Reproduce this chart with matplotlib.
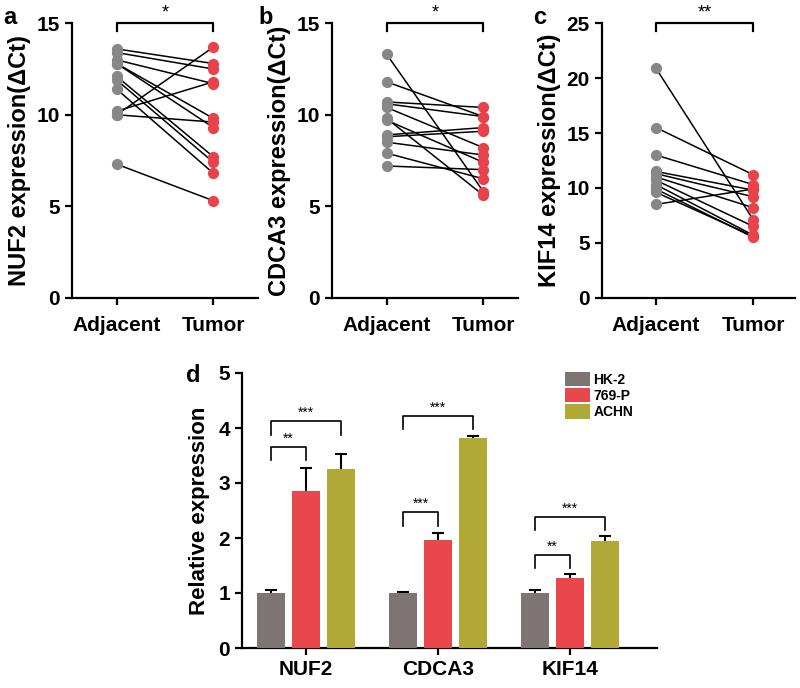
import numpy as np
import matplotlib
matplotlib.use('Agg')
import matplotlib.pyplot as plt

plt.rcParams['font.family'] = ['Liberation Sans', 'DejaVu Sans']
plt.rcParams['font.weight'] = 'bold'
plt.rcParams['axes.labelweight'] = 'bold'

# paired qPCR data (delta Ct), adjacent vs tumor
groups = ['Adjacent', 'Tumor']
nuf2_adj = [13.6, 13.4, 13.0, 12.8, 12.8, 12.1, 11.9, 11.4, 10.2, 10.0, 10.0, 7.3]
nuf2_tum = [12.8, 12.5, 11.7, 9.8, 9.3, 7.7, 7.4, 6.8, 11.8, 13.7, 9.6, 5.3]
cdca3_adj = [13.3, 11.8, 10.7, 10.6, 10.4, 9.8, 9.7, 8.9, 8.8, 8.5, 7.9, 7.2]
cdca3_tum = [5.8, 9.9, 10.4, 9.9, 8.2, 5.6, 7.4, 9.3, 9.1, 7.8, 6.5, 7.0]
kif14_adj = [20.9, 15.5, 13.0, 11.5, 11.3, 11.0, 10.7, 10.3, 9.9, 9.6, 8.5]
kif14_tum = [7.1, 11.2, 10.3, 9.8, 9.2, 8.2, 6.5, 5.7, 5.5, 5.6, 9.9]

# cell line relative expression
genes = ['NUF2', 'CDCA3', 'KIF14']
cell_lines = ['HK-2', '769-P', 'ACHN']
means = {'HK-2': [1.0, 1.0, 1.0],
         '769-P': [2.85, 1.96, 1.28],
         'ACHN': [3.26, 3.82, 1.94]}
errs = {'HK-2': [0.05, 0.01, 0.05],
        '769-P': [0.42, 0.14, 0.06],
        'ACHN': [0.27, 0.03, 0.09]}
bar_colors = {'HK-2': '#7e7473', '769-P': '#e8474c', 'ACHN': '#b0a936'}

W, H = 800, 688
fig = plt.figure(figsize=(8, 6.88), dpi=100)


def px_axes(left, top, right, bottom):
    return fig.add_axes([left / W, 1 - bottom / H, (right - left) / W, (bottom - top) / H])


def style(ax):
    for s in ['top', 'right']:
        ax.spines[s].set_visible(False)
    for s in ['left', 'bottom']:
        ax.spines[s].set_linewidth(1.6)
    ax.tick_params(width=1.6, length=5, labelsize=15)


def paired(ax, adj, tum, ylim, ticks, ylabel, xlim, stars):
    for a, t in zip(adj, tum):
        ax.plot([0, 1], [a, t], color='black', lw=1.1, zorder=2)
    ax.scatter(np.zeros(len(adj)), adj, s=50, color='#878787', zorder=3, clip_on=False)
    ax.scatter(np.ones(len(tum)), tum, s=50, color='#e8434a', zorder=3, clip_on=False)
    ax.set_xlim(*xlim)
    ax.set_ylim(*ylim)
    ax.set_yticks(ticks)
    ax.set_xticks([0, 1])
    ax.set_xticklabels(groups, fontsize=16)
    ax.set_ylabel(ylabel, fontsize=17, labelpad=4)
    style(ax)
    ax.tick_params(axis='x', pad=8)
    top = ylim[1]
    leg = top * 0.028
    ax.plot([0, 0, 1, 1], [top - leg, top, top, top - leg], color='black', lw=1.6, clip_on=False)
    ax.text(0.5, top + top * 0.005, stars, ha='center', va='bottom', fontsize=13, fontweight='normal')


ax_a = px_axes(71.7, 23.3, 258.3, 297.7)
paired(ax_a, nuf2_adj, nuf2_tum, (0, 15), [0, 5, 10, 15], 'NUF2 expression(ΔCt)', (-0.465, 1.464), '*')
ax_b = px_axes(331.7, 23.3, 518.3, 297.7)
paired(ax_b, cdca3_adj, cdca3_tum, (0, 15), [0, 5, 10, 15], 'CDCA3 expression(ΔCt)', (-0.569, 1.361), '*')
ax_c = px_axes(601.7, 23.3, 795, 297.7)
paired(ax_c, kif14_adj, kif14_tum, (0, 25), [0, 5, 10, 15, 20, 25], 'KIF14 expression(ΔCt)', (-0.558, 1.429), '**')

# bar panel
ax_d = px_axes(241.7, 373, 657, 648)
x = np.arange(len(genes))
width = 0.212
offsets = [-0.265, 0, 0.265]
for off, cl in zip(offsets, cell_lines):
    ax_d.bar(x + off, means[cl], width, color=bar_colors[cl], label=cl, zorder=3)
    # error bar behind the bar so only the upper half shows
    ax_d.errorbar(x + off, means[cl], yerr=errs[cl], fmt='none', ecolor='black',
                  elinewidth=1.5, capthick=1.5, capsize=4.5, zorder=2)
ax_d.set_xlim(-0.487, 2.66)
ax_d.set_ylim(0, 5)
ax_d.set_yticks([0, 1, 2, 3, 4, 5])
ax_d.set_xticks(x)
ax_d.set_xticklabels(genes, fontsize=14)
ax_d.set_ylabel('Relative expression', fontsize=16, labelpad=6)
style(ax_d)
ax_d.tick_params(axis='y', labelsize=15)

# significance brackets: (gene index, other group offset, top y, leg y, label)
brackets = [(0, 0.265, 3.66, 3.41, '**'), (0, 0.53, 4.13, 3.87, '***'),
            (1, 0.265, 2.47, 2.22, '***'), (1, 0.53, 4.22, 3.98, '***'),
            (2, 0.265, 1.69, 1.45, '**'), (2, 0.53, 2.39, 2.15, '***')]
for gi, dx, ytop, yleg, lab in brackets:
    x0 = gi - 0.265
    x1 = x0 + dx
    ax_d.plot([x0, x0, x1, x1], [yleg, ytop, ytop, yleg], color='black', lw=1.2)
    ax_d.text((x0 + x1) / 2, ytop + 0.02, lab, ha='center', va='bottom', fontsize=10, fontweight='normal')

ax_d.legend(loc='upper left', bbox_to_anchor=(0.778, 1.004), frameon=False, fontsize=10,
            handlelength=1.85, handleheight=1.2, labelspacing=0.1, handletextpad=0.2,
            borderpad=0, borderaxespad=0)

# panel letters
for lab, px, py in [('a', 10, 17), ('b', 266, 17), ('c', 540, 17), ('d', 193, 375)]:
    fig.text(px / W, 1 - py / H, lab, fontsize=17, fontweight='bold', ha='center', va='center')

fig.savefig('out.png', dpi=100)
